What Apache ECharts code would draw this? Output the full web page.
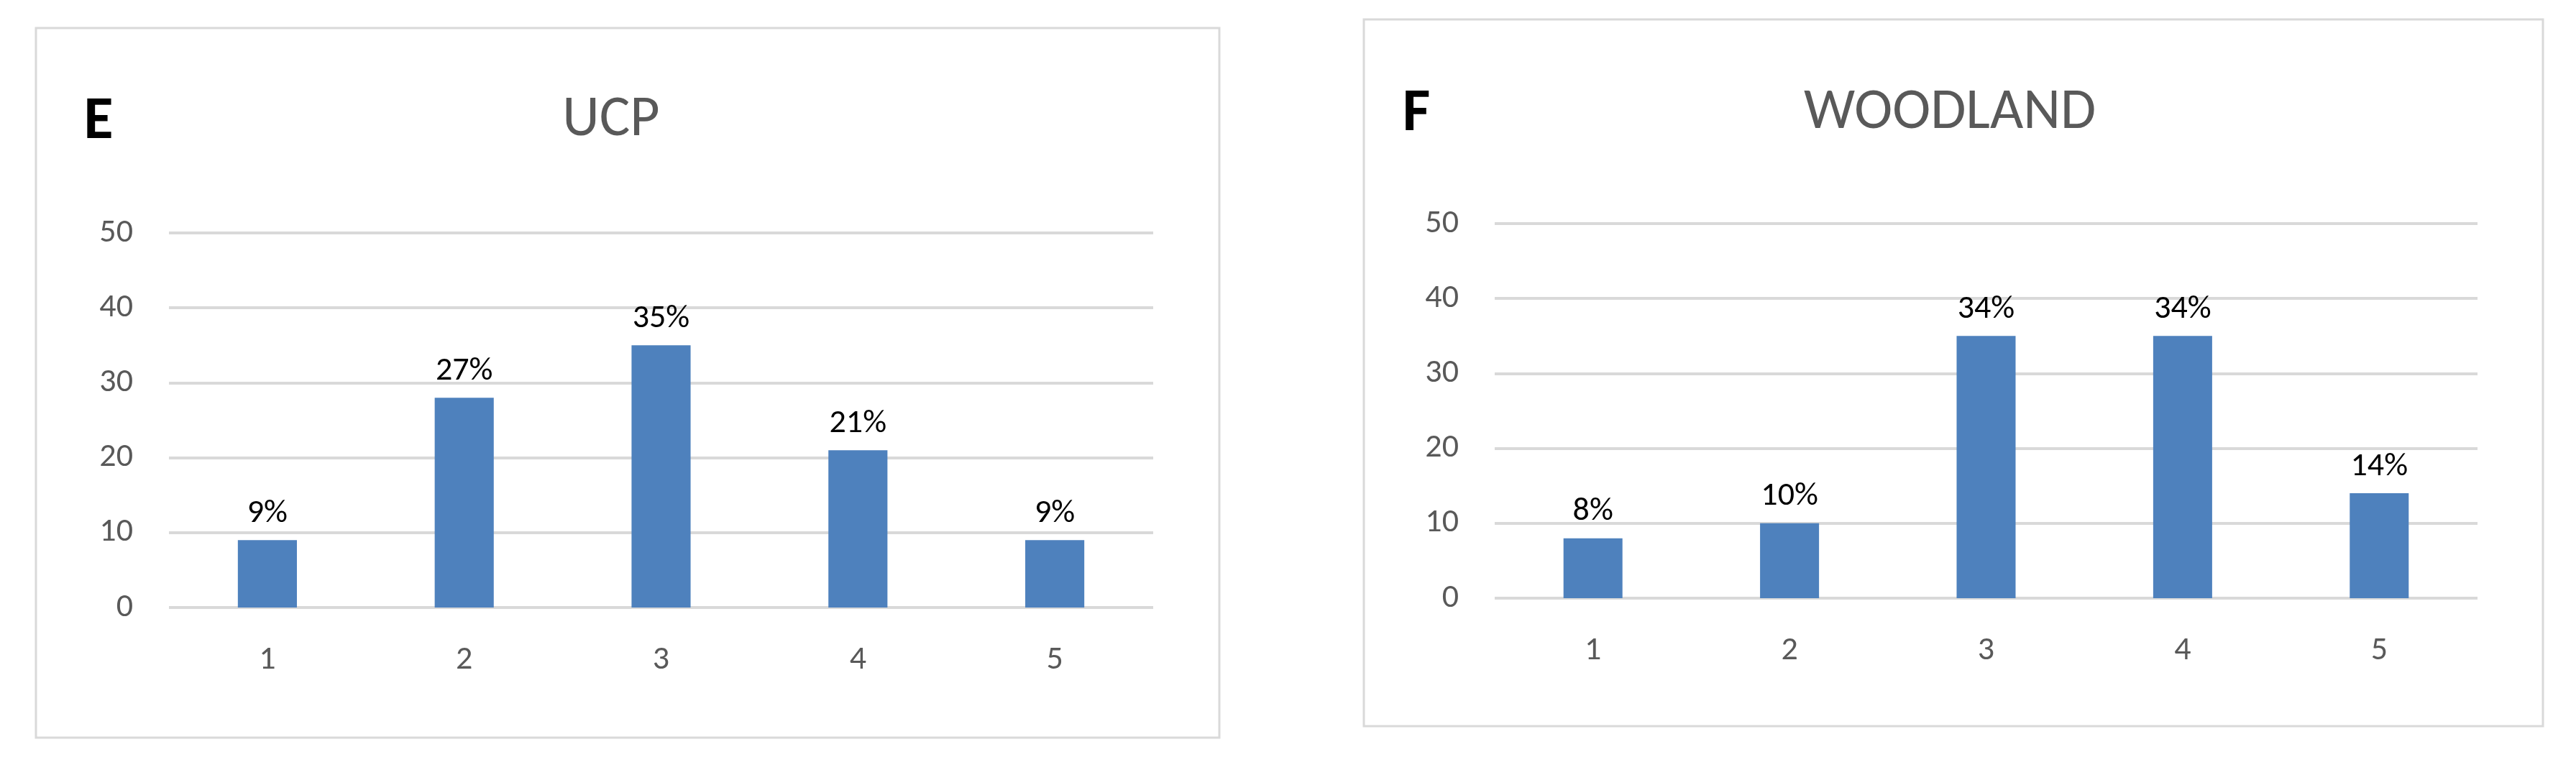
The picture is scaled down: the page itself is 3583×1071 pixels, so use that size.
<!DOCTYPE html><html><head><meta charset="utf-8"><script src="https://cdn.jsdelivr.net/npm/echarts@6/dist/echarts.min.js"></script>
<style>html,body{margin:0;background:#fff}#c{width:3583px;height:1071px}</style></head><body><div id="c"></div><script>
const categories=['1','2','3','4','5'];
const ucpValues=[9,28,35,21,9];
const ucpLabels=['9%','27%','35%','21%','9%'];
const woodValues=[8,10,35,35,14];
const woodLabels=['8%','10%','34%','34%','14%'];
const yTicks=[0,10,20,30,40,50];
const F='Calibri, Carlito, "Open Sans", sans-serif';
const c=echarts.init(document.getElementById('c'));
function xa(i){return {type:'category',gridIndex:i,data:categories,axisLine:{show:false},axisTick:{show:false},axisLabel:{color:'#595959',fontSize:46,fontFamily:F,margin:50}};}
function ya(i){return {type:'value',gridIndex:i,min:0,max:50,interval:10,axisLine:{show:false},axisTick:{show:false},axisLabel:{color:'#595959',fontSize:46,fontFamily:F,margin:50},splitLine:{lineStyle:{color:'#d9d9d9',width:4}}};}
function ser(i,vals,labs){return {type:'bar',xAxisIndex:i,yAxisIndex:i,data:vals,barWidth:'30%',itemStyle:{color:'#4e81bd'},label:{show:true,position:'top',distance:14,fontSize:46,fontFamily:F,color:'#000',formatter:p=>labs[p.dataIndex]}};}
c.setOption({animation:false,
grid:[{left:235,width:1369,top:324,height:521},{left:2079,width:1367,top:311,height:521}],
xAxis:[xa(0),xa(1)],yAxis:[ya(0),ya(1)],
series:[ser(0,ucpValues,ucpLabels),ser(1,woodValues,woodLabels)],
graphic:[
{type:'rect',shape:{x:50,y:39,width:1646,height:987},style:{fill:'none',stroke:'#d9d9d9',lineWidth:3}},
{type:'rect',shape:{x:1897,y:27,width:1640,height:983},style:{fill:'none',stroke:'#d9d9d9',lineWidth:3}},
{type:'text',x:137,y:171,style:{text:'E',font:'bold 84px '+F,fill:'#000',align:'center',verticalAlign:'middle'}},
{type:'text',x:850,y:168,style:{text:'UCP',font:'80px '+F,fill:'#595959',align:'center',verticalAlign:'middle'}},
{type:'text',x:1970,y:160,style:{text:'F',font:'bold 84px '+F,fill:'#000',align:'center',verticalAlign:'middle'}},
{type:'text',x:2712,y:158,style:{text:'WOODLAND',font:'80px '+F,fill:'#595959',align:'center',verticalAlign:'middle'}}
]});
</script></body></html>
